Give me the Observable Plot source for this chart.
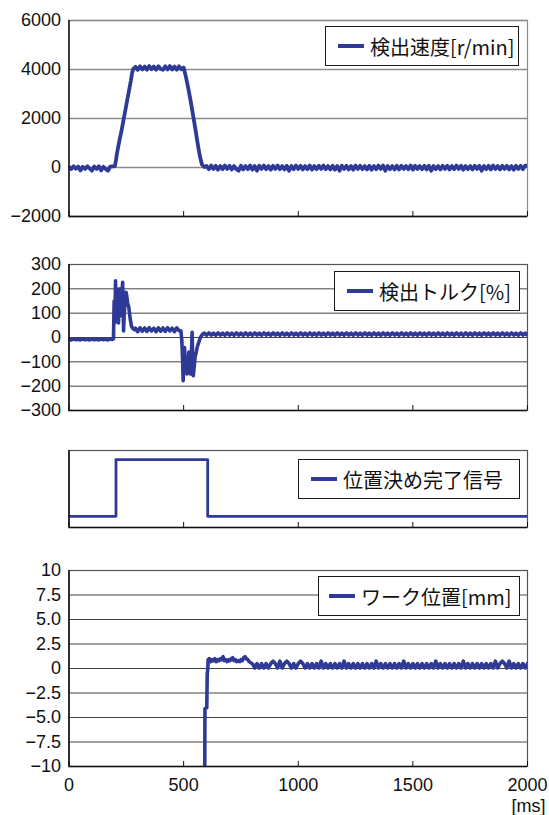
<!DOCTYPE html>
<html><head><meta charset="utf-8">
<script src="https://cdn.jsdelivr.net/npm/d3@7"></script>
<script src="https://cdn.jsdelivr.net/npm/@observablehq/plot@0.6"></script>
<style>
body{margin:0;background:#fff;}
#chart{position:relative;width:549px;height:815px;overflow:hidden;font-family:"Liberation Sans",Arial,sans-serif;}
.panel{position:absolute;left:0;}
.legend{position:absolute;background:#fff;border:1.5px solid #1a1a1a;box-sizing:border-box;display:flex;align-items:center;font-family:"Noto Sans CJK JP",sans-serif;font-size:20px;color:#111;white-space:nowrap;}
.legend .sw{display:inline-block;width:26px;height:3.5px;background:#2f3a96;margin-right:6px;}
</style></head><body><div id="chart"></div>
<script>
// ---- data ----
const xTicks = [0, 500, 1000, 1500, 2000];
const xLabels = ["0", "500", "1000", "1500", "2000"];

// speed [r/min]
const speedTicks = [-2000, 0, 2000, 4000, 6000];
const speedLabels = ["−2000", "0", "2000", "4000", "6000"];
const speedHeadV = [20,-60,50,-50,40,-120,30,-60,50,-40,-130,40,-60,50,-120,30,-60,-130,40,50]; // t=0..190 step 10
const speedRampT = [200,205,210,220,230,240,250,260,270,275,280,290,300,310,320,330,340,350,360,370,380,390,400,410,420,430,440,450,460,470,480,490,500,510,520,530,540,550,560,570,580,590];
const speedRampV = [60,300,620,1100,1550,2050,2550,3050,3550,3850,4020,4110,3990,4130,4000,4120,3990,4140,4010,4120,3990,4130,4020,3990,4130,4000,4140,4000,4120,3990,4130,4010,4080,3700,3250,2750,2200,1650,1050,500,120,20];
const speedTailV = [ // t=600..2000 step 10
60,-70,80,-60,70,-90,60,-70,80,-60,
70,-80,60,-70,-130,70,-80,60,-70,80,
-90,60,-130,70,-60,80,-70,60,-90,70,
-60,80,-70,60,-80,70,-130,60,-70,80,
-60,70,-80,60,-70,80,-90,60,-70,70,
-60,80,-70,60,-80,70,-90,60,-130,70,
-60,70,-80,60,-90,80,-60,70,-70,60,
-80,70,-90,60,-70,80,-60,80,-130,60,
-70,60,-80,70,-80,70,-60,60,-70,80,
-90,70,-60,60,-70,70,-80,70,-130,60,
-70,60,-80,70,-60,70,-80,60,-70,80,
-60,70,-90,60,-70,60,-80,70,-60,70,
-130,60,-70,70,-80,80,-60,60,-80,70,
-60,70,-80,60,-90,70,-60,70,-70,80,
60];

// torque [%]
const torqueTicks = [-300, -200, -100, 0, 100, 200, 300];
const torqueLabels = ["−300", "−200", "−100", "0", "100", "200", "300"];
const torqueHeadV = [-8,-10,-6,-9,-7,-10,-6,-9,-7,-10,-6,-9,-7,-10,-6,-9,-7,-10,-6,-8]; // t=0..190 step 10
const torqueMidT = [194,197,200,203,206,208,210,213,216,219,222,225,228,231,234,236,238,241,245,249,252,256,261,265,269,273,278,285,
290,300,310,320,330,340,350,360,370,380,390,400,410,420,430,440,450,460,470,480,
488,492,495,498,501,504,508,512,515,519,523,527,531,535,537,540,542,546,550,555,560,566,573,580,586];
const torqueMidV = [-5,150,60,233,100,200,70,150,60,190,200,120,90,180,227,150,27,100,150,186,170,140,124,90,65,45,38,32,
38,24,40,26,39,25,40,27,38,24,40,26,39,25,40,27,38,24,40,28,
28,-10,-80,-178,-60,-41,-110,-122,-150,-130,-60,-140,-150,-40,21,-100,-157,-120,-80,-60,-37,-20,0,10,16];
const torqueTailV = [ // t=590..2000 step 10
18,9,19,10,18,9,19,10,18,9,
19,10,18,9,19,10,18,9,19,10,
18,9,19,10,18,9,19,10,18,9,
19,10,18,9,19,10,18,9,19,10,
18,9,19,10,18,9,19,10,18,9,
19,10,18,9,19,10,18,9,19,10,
18,9,19,10,18,9,19,10,18,9,
19,10,18,9,19,10,18,9,19,10,
18,9,19,10,18,9,19,10,18,9,
19,10,18,9,19,10,18,9,19,10,
18,9,19,10,18,9,19,10,18,9,
19,10,18,9,19,10,18,9,19,10,
18,9,19,10,18,9,19,10,18,9,
19,10,18,9,19,10,18,9,19,10,
18,9];

// positioning complete signal
const signalT = [0, 205, 605, 2000];
const signalV = [0, 1, 0, 0];

// work position [mm]
const posTicks = [-10, -7.5, -5, -2.5, 0, 2.5, 5, 7.5, 10];
const posLabels = ["−10", "−7.5", "−5.0", "−2.5", "0", "2.5", "5.0", "7.5", "10"];
const posMidT = [592,593,601,603,605,607,612,618,624,630,636,642,648,654,660,666,672,678,684,690,696,702,708,714,720,726,732,738,744,750,756,762,768,774,780,786,792,798,804];
const posMidV = [-11,-4.1,-4.0,-0.5,-0.2,0.9,1.0,0.7,0.9,0.8,1.0,0.7,0.9,0.8,1.0,0.9,1.2,0.8,0.9,0.7,0.9,0.8,1.0,1.1,0.8,0.9,0.7,0.8,0.7,0.9,0.8,1.1,1.2,1.0,0.9,0.7,0.6,0.5,0.35];
const posTailV = [ // t=810..2000 step 10
0.05,0.5,0.05,0.5,0.05,0.5,0.05,0.5,0.75,0.5,
0.05,0.75,0.05,0.5,0.75,0.5,0.05,0.5,0.05,0.5,
0.75,0.5,0.05,0.5,0.05,0.5,0.05,0.5,0.05,0.75,
0.05,0.5,0.05,0.5,0.05,0.5,0.05,0.5,0.05,0.75,
0.05,0.5,0.05,0.5,0.05,0.5,0.05,0.5,0.05,0.5,
0.05,0.5,0.05,0.75,0.05,0.5,0.05,0.5,0.05,0.5,
0.05,0.5,0.05,0.5,0.05,0.75,0.05,0.5,0.05,0.5,
0.05,0.5,0.05,0.5,0.05,0.5,0.05,0.5,0.05,0.75,
0.05,0.5,0.05,0.5,0.05,0.5,0.05,0.5,0.05,0.5,
0.05,0.75,0.05,0.5,0.05,0.5,0.05,0.5,0.05,0.5,
0.05,0.5,0.05,0.5,0.05,0.75,0.05,0.5,0.75,0.5,
0.05,0.75,0.05,0.5,0.05,0.5,0.05,0.5,0.05,0.5];

const legendSpeed = "検出速度[r/min]";
const legendTorque = "検出トルク[%]";
const legendSignal = "位置決め完了信号";
const legendPos = "ワーク位置[mm]";

// ---- build tables ----
const grid = (start, step, vals) => vals.map((v, i) => ({t: start + i * step, v}));
const pairs = (ts, vs) => ts.map((t, i) => ({t, v: vs[i]}));
const speedData = [...grid(0, 10, speedHeadV), ...pairs(speedRampT, speedRampV), ...grid(600, 10, speedTailV)];
const torqueData = [...grid(0, 10, torqueHeadV), ...pairs(torqueMidT, torqueMidV), ...grid(590, 10, torqueTailV)];
const signalData = pairs(signalT, signalV);
const posData = [...pairs(posMidT, posMidV), ...grid(810, 10, posTailV)];

const BLUE = "#2f3a96";
const W = 549, ML = 68.5, MR = 22;
const chart = document.getElementById("chart");

function panel(o) {
  const plotH = o.height - o.marginTop - o.marginBottom;
  const marks = [];
  if (o.grid) marks.push(Plot.ruleY(o.yTicks, {stroke: o.gridColor, strokeWidth: o.gridWidth}));
  marks.push(Plot.frame({stroke: o.frameColor, strokeWidth: 1.2}));
  marks.push(Plot.line(o.data, {x: "t", y: "v", stroke: BLUE, strokeWidth: o.strokeWidth, curve: o.curve || "linear", clip: true, strokeLinejoin: "round"}));
  marks.push(Plot.ruleX([0], {stroke: "#111", strokeWidth: 1.5}));
  marks.push(Plot.ruleY([o.yDomain[0]], {stroke: "#111", strokeWidth: 1.5}));
  marks.push(Plot.ruleX(xTicks, {stroke: "#111", strokeWidth: 1, insetTop: plotH - 5}));
  if (o.yLabels) {
    const m = new Map(o.yTicks.map((d, i) => [d, o.yLabels[i]]));
    marks.push(Plot.axisY({ticks: o.yTicks, tickSize: 0, tickPadding: 8, tickFormat: d => m.get(d), fontSize: 18, label: null}));
  }
  if (o.xAxis) {
    const m = new Map(xTicks.map((d, i) => [d, xLabels[i]]));
    marks.push(Plot.axisX({ticks: xTicks, tickSize: 0, tickPadding: 12, tickFormat: d => m.get(d), fontSize: 18, label: null}));
    marks.push(Plot.text(["[ms]"], {frameAnchor: "bottom-right", textAnchor: "end", lineAnchor: "top", dx: 18, dy: 33, fontSize: 18}));
  }
  const svg = Plot.plot({
    width: W, height: o.height,
    marginLeft: ML, marginRight: MR, marginTop: o.marginTop, marginBottom: o.marginBottom,
    x: {domain: [0, 2000], axis: null, label: null},
    y: {domain: o.yDomain, axis: null, label: null},
    style: {fontSize: "18px", fontFamily: "'Liberation Sans', Arial, sans-serif", color: "#111", background: "transparent", overflow: "visible"},
    marks
  });
  svg.classList.add("panel");
  svg.style.top = o.top + "px";
  svg.style.position = "absolute";
  chart.appendChild(svg);
}

panel({top: 0, height: 230, marginTop: 20, marginBottom: 14, yDomain: [-2000, 6000], yTicks: speedTicks, yLabels: speedLabels,
  grid: true, gridColor: "#8c8c8c", gridWidth: 1.6, frameColor: "#8c8c8c", data: speedData, strokeWidth: 3.8});
panel({top: 240, height: 184, marginTop: 24, marginBottom: 14, yDomain: [-300, 300], yTicks: torqueTicks, yLabels: torqueLabels,
  grid: true, gridColor: "#444", gridWidth: 1, frameColor: "#555", data: torqueData, strokeWidth: 3.6});
panel({top: 440, height: 100, marginTop: 10, marginBottom: 13, yDomain: [-0.196, 1.16], yTicks: [], grid: false,
  frameColor: "#555", data: signalData, strokeWidth: 2.8, curve: "step-after"});
panel({top: 555, height: 260, marginTop: 15, marginBottom: 49, yDomain: [-10, 10], yTicks: posTicks, yLabels: posLabels,
  grid: true, gridColor: "#444", gridWidth: 1, frameColor: "#555", data: posData, strokeWidth: 3.6, xAxis: true});

function legend(text, left, top, width, height, pad) {
  const d = document.createElement("div");
  d.className = "legend";
  Object.assign(d.style, {left: left + "px", top: top + "px", width: width + "px", height: height + "px", paddingLeft: pad + "px"});
  const sw = document.createElement("span"); sw.className = "sw";
  const tx = document.createElement("span"); tx.textContent = text;
  d.appendChild(sw); d.appendChild(tx);
  chart.appendChild(d);
}
legend(legendSpeed, 325, 26, 194, 40, 12);
legend(legendTorque, 334, 271, 186, 40, 12);
legend(legendSignal, 298, 459, 222, 40, 12);
legend(legendPos, 318, 576, 202, 40, 10);
</script></body></html>
